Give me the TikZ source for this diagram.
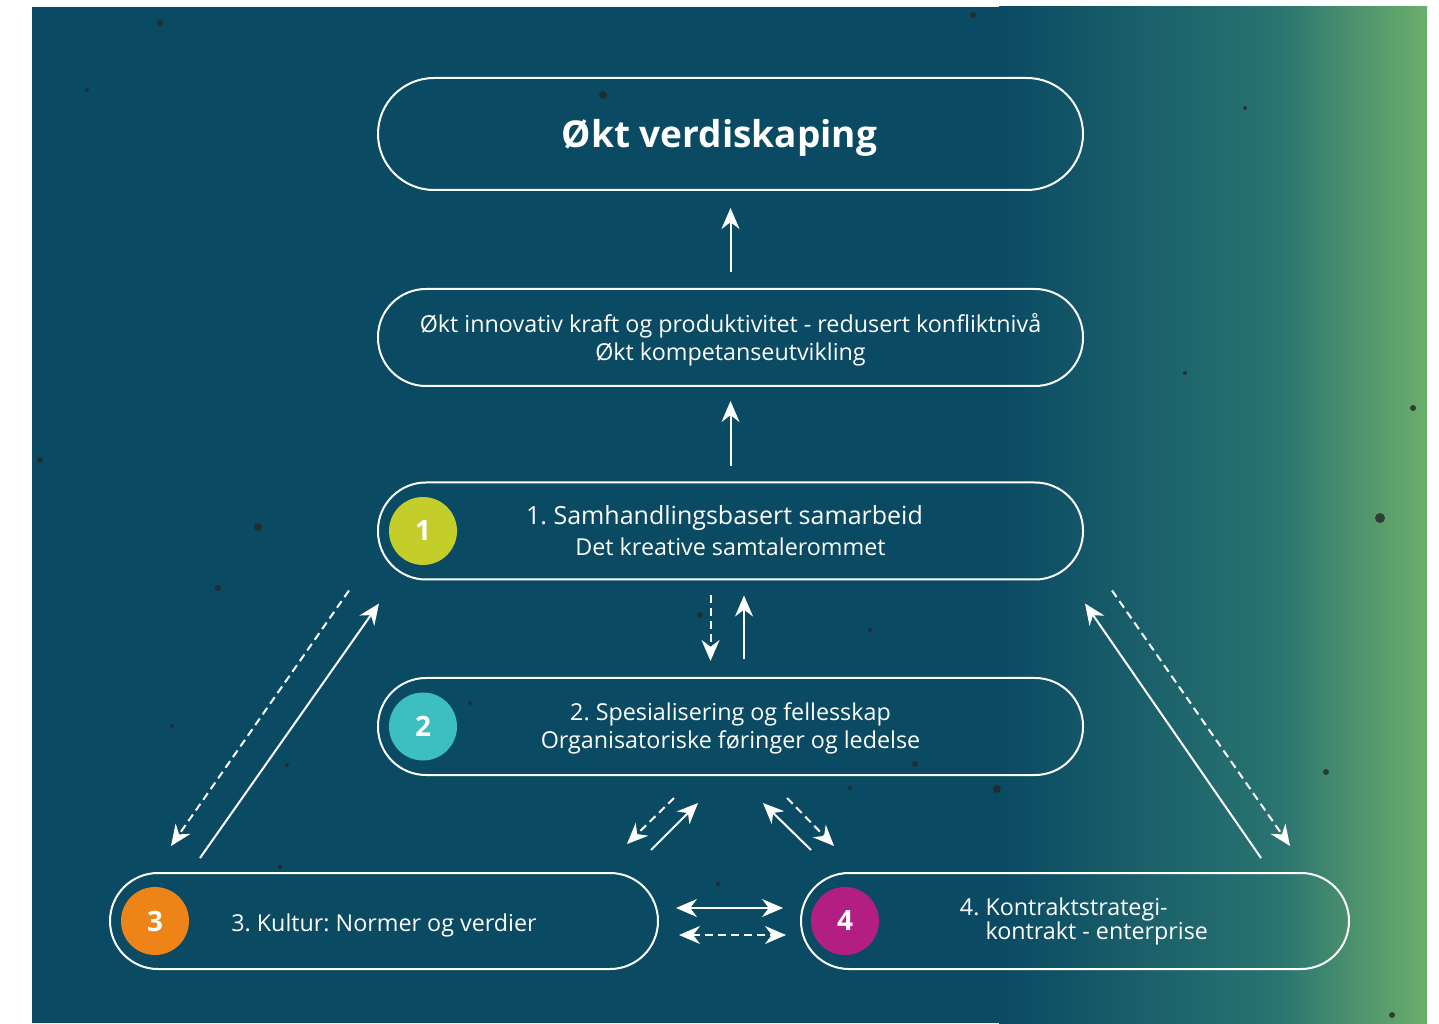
\documentclass[tikz,border=0pt]{standalone}
\usepackage{fontspec}
\setmainfont{Open Sans}
\usetikzlibrary{arrows.meta}
\frenchspacing

\definecolor{bgteal}{HTML}{0A4A63}
\definecolor{bgmid}{HTML}{2A7471}
\definecolor{bggreen}{HTML}{6CAE6B}
\definecolor{nrgreen}{HTML}{C3CE2B}
\definecolor{nrteal}{HTML}{3DBFC0}
\definecolor{nrorange}{HTML}{EE8418}
\definecolor{nrmagenta}{HTML}{B31E82}

\tikzset{
  boks/.style={draw=white, line width=2pt, rounded corners=48pt, minimum height=97pt,
    text=white, align=center, font=\fontsize{23.3}{28}\selectfont},
  nummer/.style={circle, minimum size=68pt, inner sep=0pt, text=white,
    font=\bfseries\fontsize{28}{28}\selectfont},
  pil/.style={white, line width=2pt, -{Stealth[length=21pt,width=18pt]}},
  dobbelpil/.style={white, line width=2pt, {Stealth[length=21pt,width=18pt]}-{Stealth[length=21pt,width=18pt]}},
  stiplet/.style={dash pattern=on 8pt off 5pt},
}

\begin{document}
\begin{tikzpicture}[x=1pt,y=1pt]
\useasboundingbox (0,0) rectangle (1439,1023);
% bakgrunn
\fill[bgteal] (32,0) rectangle (1000,1016);
\shade[left color=bgteal, right color=bgmid] (999,0) rectangle (1280,1016);
\shade[left color=bgmid, right color=bggreen] (1279,0) rectangle (1427,1016);
% flekker
\foreach \x/\y/\r in {1380/505/5, 258/496/4, 603/928/4, 1413/615/3, 973/1008/3,
  40/563/3, 1326/251/3, 1392/8/3, 997/234/4, 915/259/3, 160/1000/3, 87/933/2,
  218/435/3, 172/297/2, 287/258/2, 280/156/2, 718/139/2, 700/408/3, 870/393/2,
  850/235/2, 1185/650/2, 1245/915/2, 470/320/2}
  \fill[black!85, opacity=.8] (\x,\y) circle [radius=\r];

% bokser
\node[boks, rounded corners=56pt, minimum height=112pt, minimum width=705pt,
  font=\bfseries\fontsize{37}{40}\selectfont] (maal) at (730.5,889)
  {\hspace*{-22pt}\raisebox{-14pt}[0pt][0pt]{Økt verdiskaping}};
\node[boks, minimum width=705pt] (effekt) at (730.5,685.5)
  {\rule{0pt}{24pt}Økt innovativ kraft og produktivitet - redusert konfliktnivå\\Økt kompetanseutvikling};
\node[boks, minimum width=705pt, font=\fontsize{23.3}{31}\selectfont] (samh) at (730.5,492)
  {{\fontsize{25}{31}\selectfont 1. Samhandlingsbasert samarbeid\hspace*{12pt}}\\Det kreative samtalerommet};
\node[boks, minimum width=705pt] (spes) at (730.5,296.5)
  {\rule{0pt}{22pt}2. Spesialisering og fellesskap\\Organisatoriske føringer og ledelse};
\node[boks, minimum width=548pt, minimum height=96pt] (kult) at (384,102)
  {\raisebox{-10pt}[0pt][0pt]{3. Kultur: Normer og verdier}};
\node[boks, minimum width=548pt, minimum height=96pt, align=left,
  font=\fontsize{23.3}{24}\selectfont] (kontr) at (1075,102)
  {\hspace*{18pt}4. Kontraktstrategi-\\\hspace*{18pt}\phantom{4. }kontrakt - enterprise};

% nummer
\node[nummer, fill=nrgreen] (n1) at ([xshift=46pt]samh.west) {1};
\node[nummer, fill=nrteal] (n2) at ([xshift=46pt]spes.west) {2};
\node[nummer, fill=nrorange] (n3) at ([xshift=46pt]kult.west) {3};
\node[nummer, fill=nrmagenta] (n4) at ([xshift=45pt]kontr.west) {4};

% piler oppover
\draw[pil] ([yshift=16pt]effekt.north) -- ([yshift=-17pt]maal.south);
\draw[pil] ([yshift=15pt]samh.north) -- ([yshift=-14pt]effekt.south);
\draw[pil, stiplet] ([xshift=-20pt,yshift=-15pt]samh.south) -- ([xshift=-20pt,yshift=16pt]spes.north);
\draw[pil] ([xshift=13.5pt,yshift=18pt]spes.north) -- ([xshift=13.5pt,yshift=-15pt]samh.south);

% venstre side
\draw[pil, stiplet] ([xshift=-28pt,yshift=-10pt]samh.south west) -- ([xshift=62pt,yshift=26pt]kult.north west);
\draw[pil] ([xshift=91pt,yshift=14pt]kult.north west) -- ([xshift=2pt,yshift=-23pt]samh.south west);
% hoyre side
\draw[pil] ([xshift=-89pt,yshift=14pt]kontr.north east) -- ([xshift=1pt,yshift=-23pt]samh.south east);
\draw[pil, stiplet] ([xshift=28pt,yshift=-10pt]samh.south east) -- ([xshift=-60pt,yshift=26pt]kontr.north east);

% mellom 2 og 3/4
\draw[pil, stiplet] ([xshift=-56.5pt,yshift=-22pt]spes.south) -- ([xshift=-103.5pt,yshift=-68pt]spes.south);
\draw[pil] ([xshift=-79.5pt,yshift=-74pt]spes.south) -- ([xshift=-32.5pt,yshift=-27pt]spes.south);
\draw[pil] ([xshift=80.5pt,yshift=-74pt]spes.south) -- ([xshift=32.5pt,yshift=-27pt]spes.south);
\draw[pil, stiplet] ([xshift=56.5pt,yshift=-22pt]spes.south) -- ([xshift=103.5pt,yshift=-70pt]spes.south);

% mellom 3 og 4
\draw[dobbelpil] ([xshift=17pt,yshift=13pt]kult.east) -- ([xshift=-17pt,yshift=13pt]kontr.west);
\draw[dobbelpil, stiplet] ([xshift=20pt,yshift=-14pt]kult.east) -- ([xshift=-14pt,yshift=-14pt]kontr.west);
\end{tikzpicture}
\end{document}
